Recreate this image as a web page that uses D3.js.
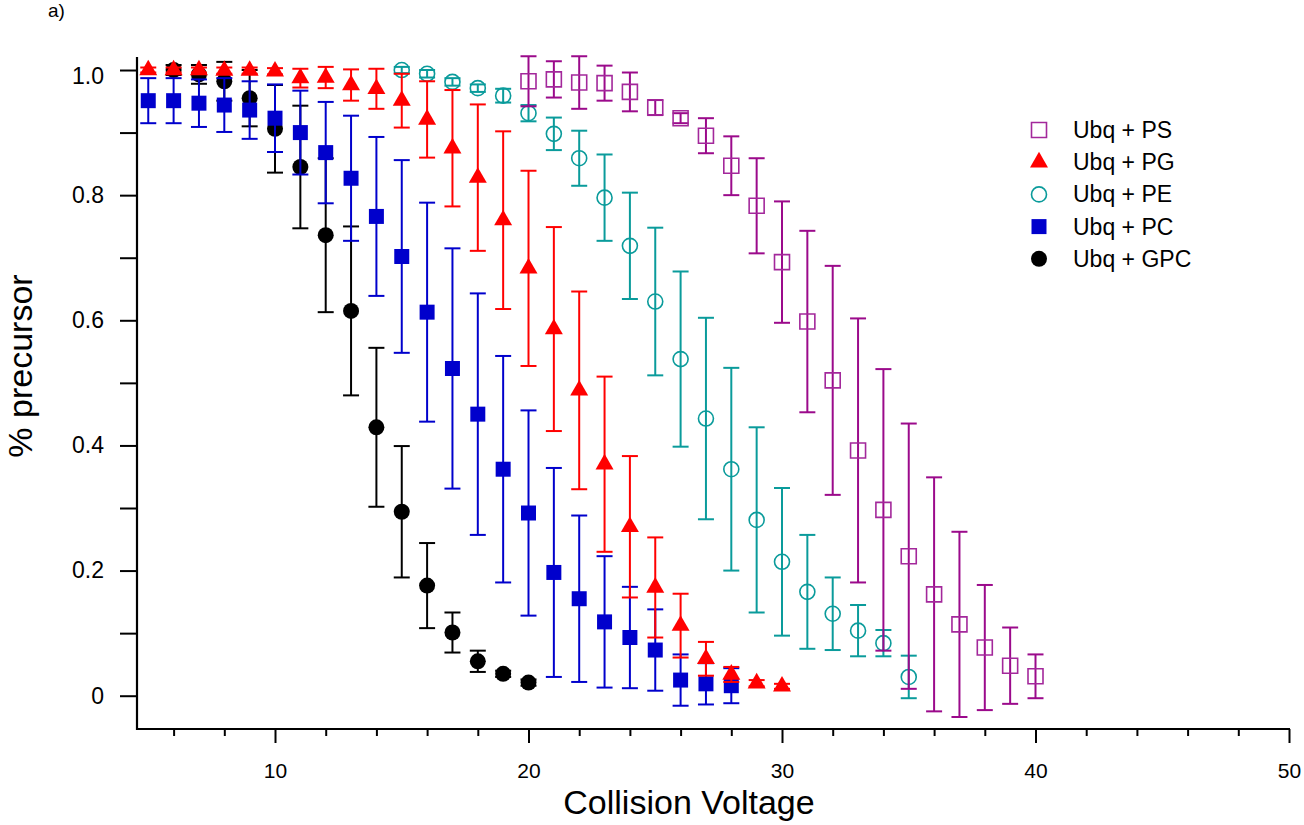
<!DOCTYPE html>
<html>
<head>
<meta charset="utf-8">
<script src="https://cdn.jsdelivr.net/npm/d3@7/dist/d3.min.js"></script>
<style>
  html, body { margin: 0; padding: 0; background: #fff; }
  svg { display: block; font-family: "Liberation Sans", Arial, sans-serif; }
</style>
</head>
<body>
<svg id="chart" width="1304" height="825"></svg>
<script>
// ---- data ----
const gpcX   = [6,7,8,9,10,11,12,13,14,15,16,17,18,19,20];
const gpcY   = [1.0,0.993,0.982,0.955,0.906,0.845,0.736,0.615,0.429,0.294,0.176,0.101,0.055,0.035,0.021];
const gpcErr = [0.008,0.015,0.031,0.045,0.07,0.098,0.123,0.135,0.127,0.105,0.068,0.032,0.017,0.005,0.005];

const pcX   = [5,6,7,8,9,10,11,12,13,14,15,16,17,18,19,20,21,22,23,24,25,26,27,28];
const pcY   = [0.951,0.951,0.947,0.944,0.936,0.923,0.900,0.868,0.827,0.766,0.702,0.613,0.523,0.450,0.362,0.292,0.197,0.155,0.118,0.093,0.073,0.025,0.019,0.016];
const pcErr = [0.036,0.036,0.038,0.043,0.046,0.054,0.067,0.081,0.100,0.127,0.154,0.175,0.192,0.193,0.181,0.164,0.167,0.133,0.105,0.081,0.065,0.041,0.033,0.028];

const peX   = [15,16,17,18,19,20,21,22,23,24,25,26,27,28,29,30,31,32,33,34,35];
const peY   = [1.0,0.994,0.981,0.971,0.959,0.931,0.898,0.859,0.796,0.719,0.630,0.538,0.443,0.362,0.281,0.214,0.166,0.131,0.104,0.084,0.030];
const peErr = [0.005,0.006,0.006,0.006,0.011,0.013,0.026,0.044,0.069,0.085,0.118,0.140,0.161,0.162,0.148,0.118,0.091,0.058,0.041,0.021,0.034];

const pgX   = [5,6,7,8,9,10,11,12,13,14,15,16,17,18,19,20,21,22,23,24,25,26,27,28,29,30];
const pgY   = [1.0,1.0,1.0,0.999,0.999,0.998,0.987,0.988,0.976,0.970,0.951,0.921,0.875,0.828,0.760,0.683,0.586,0.488,0.370,0.270,0.173,0.112,0.059,0.034,0.020,0.015];
const pgErr = [0.004,0.004,0.004,0.005,0.005,0.005,0.015,0.017,0.025,0.032,0.043,0.061,0.093,0.117,0.142,0.156,0.163,0.158,0.140,0.113,0.080,0.051,0.027,0.012,0.005,0.004];

const psX   = [20,21,22,23,24,25,26,27,28,29,30,31,32,33,34,35,36,37,38,39,40];
const psY   = [0.982,0.985,0.980,0.979,0.965,0.940,0.923,0.895,0.847,0.783,0.693,0.598,0.504,0.392,0.297,0.223,0.162,0.114,0.077,0.048,0.031];
const psErr = [0.040,0.029,0.042,0.028,0.031,0.012,0.008,0.028,0.047,0.076,0.097,0.145,0.183,0.211,0.225,0.212,0.187,0.148,0.100,0.061,0.035];

const seriesNames = ["Ubq + PS","Ubq + PG","Ubq + PE","Ubq + PC","Ubq + GPC"];
const xMajorTicks = [10,20,30,40,50];
const xMinorTicks = [6,8,12,14,16,18,22,24,26,28,32,34,36,38,42,44,46,48];
const yMajorTicks = [0,0.2,0.4,0.6,0.8,1.0];
const yTickLabels = ["0","0.2","0.4","0.6","0.8","1.0"];
const yMinorTicks = [0.1,0.3,0.5,0.7,0.9];

// ---- layout ----
const svg = d3.select("#chart");
const x = d3.scaleLinear().domain([4.556, 50]).range([137, 1289]);
const y = d3.scaleLinear().domain([-0.0532, 1.0208]).range([729, 57]);

const C = {
  ps: "#9b0a8b", psM: "#a3289b",
  pg: "#ff0000",
  pe: "#0a9b9b",
  pc: "#0000cc",
  gpc: "#000000"
};

svg.append("rect").attr("width",1304).attr("height",825).attr("fill","#fff");

// axes
const gy = svg.append("g").attr("transform","translate(137,0)");
gy.call(d3.axisLeft(y).tickValues(yMajorTicks).tickSize(17).tickPadding(16)
  .tickFormat((d,i)=>yTickLabels[i]));
gy.select(".domain").remove();
gy.append("g").call(d3.axisLeft(y).tickValues(yMinorTicks).tickSize(17).tickFormat(""))
  .select(".domain").remove();
gy.selectAll("line").attr("stroke","#000").attr("stroke-width",2);
gy.selectAll("text").attr("font-size",23).attr("fill","#000")
  .attr("font-family","'Liberation Sans', Arial, sans-serif");
gy.selectAll(".tick text").filter(d=>d===1.0).attr("dy","0.6em");

const gx = svg.append("g").attr("transform","translate(0,729)");
gx.call(d3.axisBottom(x).tickValues(xMajorTicks).tickSize(14).tickPadding(20).tickFormat(d3.format("d")));
gx.select(".domain").remove();
gx.append("g").call(d3.axisBottom(x).tickValues(xMinorTicks).tickSize(7).tickFormat(""))
  .select(".domain").remove();
gx.selectAll("line").attr("stroke","#000").attr("stroke-width",2);
gx.selectAll("text").attr("font-size",21).attr("fill","#000")
  .attr("font-family","'Liberation Sans', Arial, sans-serif");

// axis lines
svg.append("line").attr("x1",137).attr("x2",137).attr("y1",57).attr("y2",730)
  .attr("stroke","#000").attr("stroke-width",2.2);
svg.append("line").attr("x1",136).attr("x2",1290).attr("y1",729).attr("y2",729)
  .attr("stroke","#000").attr("stroke-width",2.2);

// labels
svg.append("text").attr("x",689).attr("y",814).attr("text-anchor","middle")
  .attr("font-size",34).text("Collision Voltage");
svg.append("text").attr("transform","translate(32,366) rotate(-90)").attr("text-anchor","middle")
  .attr("font-size",34).text("% precursor");
svg.append("text").attr("x",48).attr("y",17).attr("font-size",19).text("a)");

// ---- series ----
function errBars(g, xs, ys, es, color) {
  const d = xs.map((v,i)=>({x:v, y:ys[i], e:es[i]}));
  const eg = g.append("g").attr("stroke", color).attr("stroke-width", 2).attr("fill","none");
  eg.selectAll("line.v").data(d).join("line").attr("class","v")
    .attr("x1",p=>x(p.x)).attr("x2",p=>x(p.x))
    .attr("y1",p=>y(p.y+p.e)).attr("y2",p=>y(p.y-p.e));
  eg.selectAll("line.t").data(d).join("line").attr("class","t")
    .attr("x1",p=>x(p.x)-8).attr("x2",p=>x(p.x)+8)
    .attr("y1",p=>y(p.y+p.e)).attr("y2",p=>y(p.y+p.e));
  eg.selectAll("line.b").data(d).join("line").attr("class","b")
    .attr("x1",p=>x(p.x)-8).attr("x2",p=>x(p.x)+8)
    .attr("y1",p=>y(p.y-p.e)).attr("y2",p=>y(p.y-p.e));
  return d;
}

const symSquare = d3.symbol(d3.symbolSquare, 15*15)();
const symSquareF = d3.symbol(d3.symbolSquare, 15*15)();
const symTri = d3.symbol(d3.symbolTriangle, 140)();
const symCircO = d3.symbol(d3.symbolCircle, Math.PI*7.5*7.5)();
const symCircF = d3.symbol(d3.symbolCircle, Math.PI*8*8)();

const series = [
  {xs:gpcX, ys:gpcY, es:gpcErr, color:C.gpc, path:symCircF, fill:C.gpc, stroke:"none"},
  {xs:pcX, ys:pcY, es:pcErr, color:C.pc, path:symSquareF, fill:C.pc, stroke:"none"},
  {xs:peX, ys:peY, es:peErr, color:C.pe, path:symCircO, fill:"none", stroke:C.pe},
  {xs:pgX, ys:pgY, es:pgErr, color:C.pg, path:symTri, fill:C.pg, stroke:"none"},
  {xs:psX, ys:psY, es:psErr, color:C.ps, path:symSquare, fill:"none", stroke:C.psM}
];

series.forEach(s=>{
  const g = svg.append("g");
  const d = errBars(g, s.xs, s.ys, s.es, s.color);
  g.selectAll("path.m").data(d).join("path").attr("class","m")
    .attr("d", s.path)
    .attr("transform", p=>`translate(${x(p.x)},${y(p.y)})`)
    .attr("fill", s.fill).attr("stroke", s.stroke).attr("stroke-width", 1.6);
});

// ---- legend ----
const legendStyle = [
  {path:symSquare, fill:"none", stroke:C.psM},
  {path:symTri, fill:C.pg, stroke:"none"},
  {path:symCircO, fill:"none", stroke:C.pe},
  {path:symSquareF, fill:C.pc, stroke:"none"},
  {path:symCircF, fill:C.gpc, stroke:"none"}
];
const lg = svg.append("g");
seriesNames.forEach((name,i)=>{
  const cy = 130 + i*32.2;
  lg.append("path").attr("d", legendStyle[i].path)
    .attr("transform",`translate(1039,${cy})`)
    .attr("fill",legendStyle[i].fill).attr("stroke",legendStyle[i].stroke).attr("stroke-width",1.6);
  lg.append("text").attr("x",1073).attr("y",cy+8).attr("font-size",23).text(name);
});
</script>
</body>
</html>
